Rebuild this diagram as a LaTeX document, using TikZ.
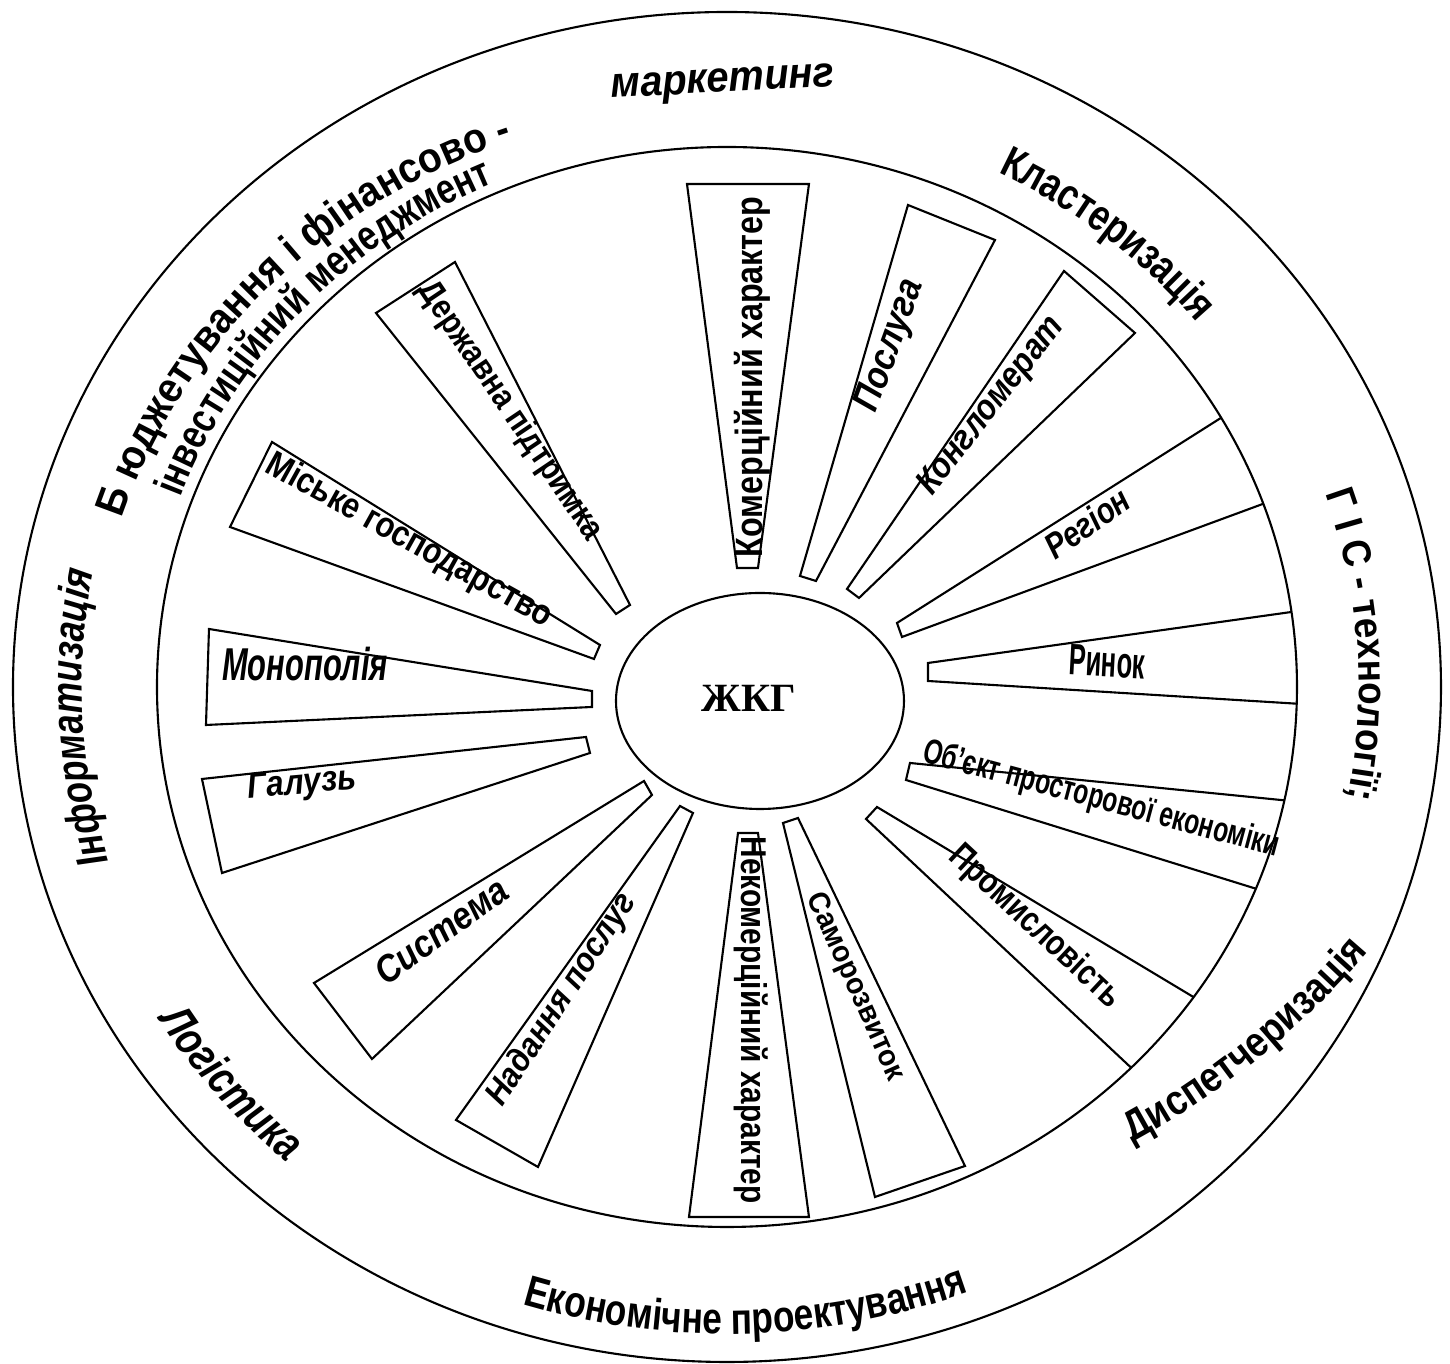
\documentclass[tikz,border=0pt]{standalone}
\usepackage{fontspec}
\setmainfont{Liberation Sans}
\newfontfamily\zhkgfont{Liberation Serif}
\newfontfamily\ringnarrow[FakeStretch=0.8]{Liberation Sans}
\newfontfamily\ringmid[FakeStretch=0.86]{Liberation Sans}
\newfontfamily\ringwide[FakeStretch=0.92]{Liberation Sans}
\usetikzlibrary{decorations.text}
\newcommand{\setfs}[1]{\fontsize{#1}{#1}\selectfont}
\newcommand{\narrowtext}[2]{\scalebox{#1}[1]{#2}}
\begin{document}
\begin{tikzpicture}[x=0.01cm, y=0.01cm, line width=0.6pt,
    boxup/.style={font={\bfseries\setfs{#1}}, inner sep=0pt},
    boxit/.style={font={\bfseries\itshape\setfs{#1}}, inner sep=0pt},
    ringtext/.style={decorate, decoration={text along path, text align=center, text={#1}}}]
    \useasboundingbox (-727,-677) rectangle (723,687);
    \draw (0,0) ellipse [x radius=714, y radius=675];
    \draw (0,0) ellipse [x radius=570, y radius=540];
    \draw (33,-14) ellipse [x radius=144, y radius=108];
    \node[font={\zhkgfont\bfseries\setfs{11.4}}] (zhkg) at (22,-11) {ЖКГ};
    \draw (-40,503) -- (82,503) -- (31,119) -- (10,119) -- cycle;
    \draw (181,482) -- (268,447) -- (89,106) -- (73,111) -- cycle;
    \draw (337,416) -- (408,354) -- (132,89) -- (120,98) -- cycle;
    \begin{scope}
        \clip (0,0) ellipse [x radius=570, y radius=540];
        \draw (170,64) -- (527,290) -- (571,196) -- (175,50) -- cycle;
        \draw (201,24) -- (600,80) -- (607,-19) -- (201,6) -- cycle;
        \draw (183,-76) -- (594,-117) -- (562,-212) -- (179,-93) -- cycle;
        \draw (150,-120) -- (498,-329) -- (430,-405) -- (139,-132) -- cycle;
    \end{scope}
    \draw (56,-136) -- (71,-131) -- (238,-479) -- (148,-510) -- cycle;
    \draw (11,-146) -- (31,-146) -- (82,-530) -- (-38,-530) -- cycle;
    \draw (-47,-119) -- (-34,-126) -- (-189,-480) -- (-271,-433) -- cycle;
    \draw (-83,-94) -- (-75,-108) -- (-355,-372) -- (-413,-296) -- cycle;
    \draw (-141,-50) -- (-137,-66) -- (-505,-186) -- (-525,-92) -- cycle;
    \draw (-135,-4) -- (-135,-20) -- (-521,-38) -- (-518,58) -- cycle;
    \draw (-127,42) -- (-133,28) -- (-497,160) -- (-455,245) -- cycle;
    \draw (-97,82) -- (-111,73) -- (-351,374) -- (-272,425) -- cycle;
    \node[boxup=10.8, rotate=90] (komerc) at (25,310) {\narrowtext{0.85}{Комерційний характер}};
    \node[boxit=10.8, rotate=70] (posluha) at (164,341) {\narrowtext{0.88}{Послуга}};
    \node[boxit=10.2, rotate=52] (konhlomerat) at (265,281) {\narrowtext{0.87}{Конгломерат}};
    \node[boxit=10.2, rotate=35] (rehion) at (360,164) {\narrowtext{0.82}{Регіон}};
    \node[boxup=12.5, rotate=-3] (rynok) at (380,25) {\narrowtext{0.58}{Ринок}};
    \node[boxup=10, rotate=-15] (obiekt) at (374,-113) {\narrowtext{0.7}{Об'єкт просторової економіки}};
    \node[boxup=10.2, rotate=-43] (promysl) at (308,-240) {\narrowtext{0.81}{Промисловість}};
    \node[boxup=8.5, rotate=-66] (samorozv) at (128,-300) {\narrowtext{0.95}{Саморозвиток}};
    \node[boxup=10.2, rotate=-90] (nekomerc) at (24,-333) {\narrowtext{0.83}{Некомерційний характер}};
    \node[boxit=9.7, rotate=57] (nadannia) at (-165,-313) {\narrowtext{0.9}{Надання послуг}};
    \node[boxit=10.8, rotate=36] (systema) at (-286,-244) {\narrowtext{0.88}{Система}};
    \node[boxit=10.2, rotate=5] (haluz) at (-425,-98) {\narrowtext{0.88}{Галузь}};
    \node[boxit=13.1] (monopol) at (-422,23) {\narrowtext{0.67}{Монополія}};
    \node[boxup=10.2, rotate=-29] (miske) at (-318,146) {\narrowtext{0.86}{Міське господарство}};
    \node[boxup=9.7, rotate=-56] (derzh) at (-217,276) {\narrowtext{0.87}{Державна підтримка}};
    \node[font={\bfseries\itshape\setfs{12.2}}, rotate=3] (marketynh) at (-4,602) {\narrowtext{0.93}{маркетинг}};
    \path[ringtext={|\ringnarrow\bfseries\setfs{12.5}|Кластеризація}] (85:608 and 575) arc[start angle=85, end angle=17, x radius=608, y radius=575];
    \path[shift={(-6,-16)}, ringtext={|\ringwide\bfseries\setfs{12}|Б юджетування і фінансово -}] (175:630 and 596) arc[start angle=175, end angle=97, x radius=630, y radius=596];
    \path[ringtext={|\ringnarrow\bfseries\setfs{12}|інвестиційний менеджмент}] (170:582 and 550) arc[start angle=170, end angle=104, x radius=582, y radius=550];
    \path[ringtext={|\ringwide\bfseries\setfs{11.4}|Г І С - технології;}] (39:632 and 598) arc[start angle=39, end angle=-31, x radius=632, y radius=598];
    \path[ringtext={|\ringmid\bfseries\setfs{12}|Диспетчеризація}] (224.8,-527.7) arc[start angle=-75, end angle=-27, radius=830];
    \path[ringtext={|\ringnarrow\bfseries\setfs{12.5}|Економічне проектування}] (-135:684 and 647) arc[start angle=-135, end angle=-41.6, x radius=684, y radius=647];
    \path[ringtext={|\ringnarrow\bfseries\itshape\setfs{13.1}|Логістика}] (195:668 and 632) arc[start angle=195, end angle=245, x radius=668, y radius=632];
    \path[ringtext={|\ringnarrow\bfseries\itshape\setfs{12.5}|Інформатизація}] (215:645 and 610) arc[start angle=215, end angle=150.6, x radius=645, y radius=610];
\end{tikzpicture}
\end{document}
